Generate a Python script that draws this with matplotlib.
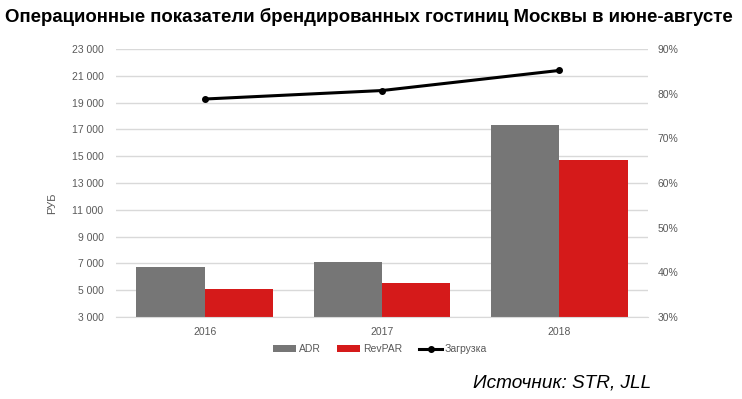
import numpy as np
import matplotlib.pyplot as plt
from matplotlib.ticker import FuncFormatter

plt.rcParams['font.family'] = ['Liberation Sans', 'DejaVu Sans']

years = ['2016', '2017', '2018']
adr = [6700, 7100, 17350]
revpar = [5070, 5550, 14750]
occupancy = [78.8, 80.7, 85.2]

gray = '#767676'
red = '#D51A1A'
txt = '#595959'

fig = plt.figure(figsize=(7.42, 3.99), dpi=100)
ax = fig.add_axes([116 / 742, 1 - 317 / 399, 532 / 742, 268 / 399])
ax2 = ax.twinx()

x = np.arange(len(years))
w = 0.385
ax.bar(x - w / 2, adr, w, color=gray, label='ADR', zorder=2)
ax.bar(x + w / 2, revpar, w, color=red, label='RevPAR', zorder=2)
ax2.plot(x, occupancy, color='black', lw=2.2, marker='o', ms=4, label='Загрузка', zorder=3)

ax.set_xlim(-0.5, 2.5)
ax.set_ylim(3000, 23000)
ax.set_yticks(np.arange(3000, 23001, 2000))
ax.yaxis.set_major_formatter(FuncFormatter(lambda v, p: f'{int(v):,}'.replace(',', ' ')))
ax.grid(axis='y', color='#D9D9D9', lw=1, zorder=0)
ax.set_axisbelow(True)
ax.set_xticks(x)
ax.set_xticklabels(years)
ax.set_ylabel('РУБ', color=txt, fontsize=8)
ax.yaxis.set_label_coords(-0.111, 0.425)

ax2.set_ylim(30, 90)
ax2.set_yticks(np.arange(30, 91, 10))
ax2.yaxis.set_major_formatter(FuncFormatter(lambda v, p: f'{int(v)}%'))

for a in (ax, ax2):
    for s in a.spines.values():
        s.set_visible(False)
    a.tick_params(length=0, labelsize=7.5, labelcolor=txt)
ax.tick_params(axis='y', pad=9)
ax.tick_params(axis='x', pad=7)
ax2.tick_params(axis='y', pad=7)
ax.spines['bottom'].set_visible(True)
ax.spines['bottom'].set_color('#D9D9D9')

h1, l1 = ax.get_legend_handles_labels()
h2, l2 = ax2.get_legend_handles_labels()
fig.legend(h1 + h2, l1 + l2, loc='center', bbox_to_anchor=(380 / 742, 1 - 349 / 399),
           ncol=3, frameon=False, fontsize=7.5, labelcolor=txt, handlelength=2.2,
           handleheight=0.6, handletextpad=0.3, columnspacing=1.6)

fig.text(5 / 742, 1 - 17 / 399, 'Операционные показатели брендированных гостиниц Москвы в июне-августе',
         fontsize=13.4, fontweight='bold', va='center', ha='left')
fig.text(473 / 742, 1 - 383 / 399, 'Источник: STR, JLL', fontsize=13.7, style='italic',
         va='center', ha='left')

fig.savefig('out.png', dpi=100)
